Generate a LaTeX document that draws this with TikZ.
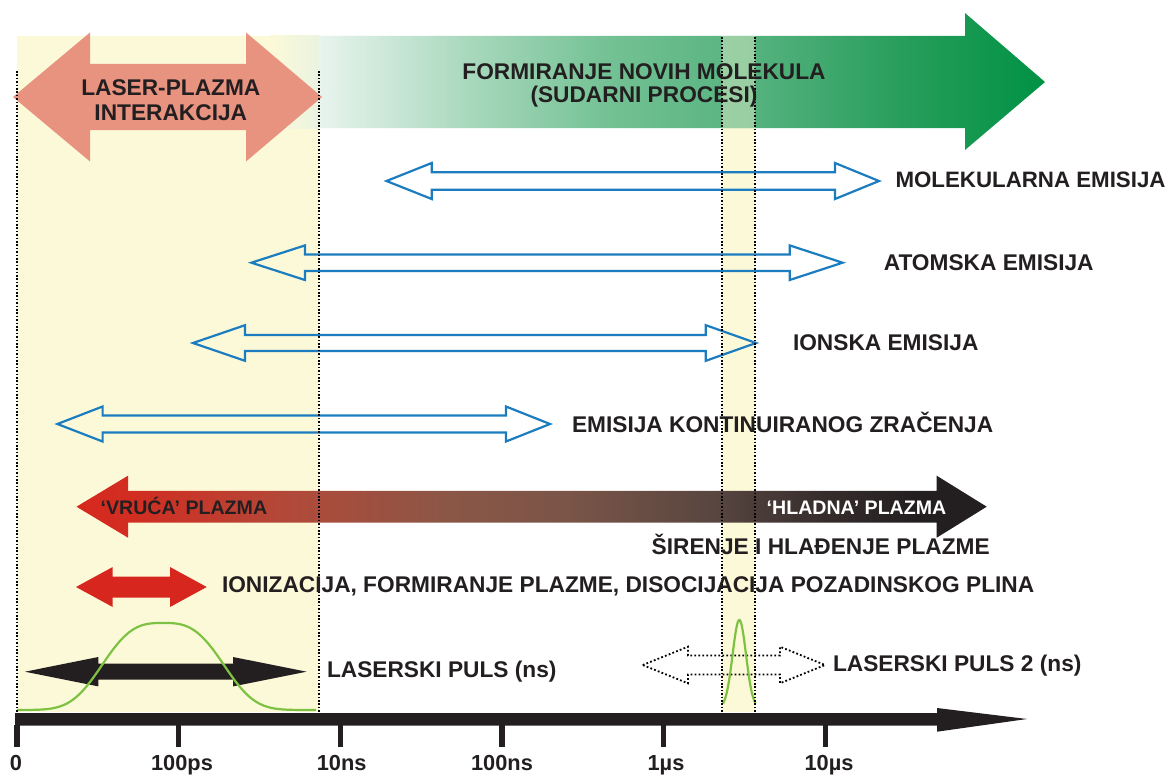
\documentclass[tikz,border=0pt]{standalone}
\usepackage{fontspec}
\setmainfont{Liberation Sans}
\definecolor{bandyellow}{RGB}{252,249,216}
\definecolor{txt}{RGB}{35,31,32}
\definecolor{salmon}{RGB}{232,146,128}
\definecolor{eblue}{RGB}{27,125,192}
\definecolor{ired}{RGB}{215,38,30}
\definecolor{pgreen}{RGB}{125,194,66}
\definecolor{ga}{RGB}{232,244,238}
\definecolor{gb}{RGB}{170,217,190}
\definecolor{gc}{RGB}{115,193,148}
\definecolor{gd}{RGB}{85,178,126}
\definecolor{ge}{RGB}{40,158,92}
\definecolor{gf}{RGB}{0,146,68}
\definecolor{pa}{RGB}{215,40,30}
\definecolor{pb}{RGB}{210,45,33}
\definecolor{pc}{RGB}{176,74,58}
\definecolor{pd}{RGB}{140,86,70}
\definecolor{pe}{RGB}{122,85,72}
\definecolor{pf}{RGB}{88,70,64}
\definecolor{pg}{RGB}{55,45,45}
\definecolor{ph}{RGB}{35,31,32}
\definecolor{hint}{RGB}{234,243,224}
\pgfdeclarehorizontalshading{greenarrow}{100bp}{color(0bp)=(ga); color(25bp)=(ga); color(35bp)=(gb); color(45bp)=(gc); color(55bp)=(gd); color(65bp)=(ge); color(75bp)=(gf); color(100bp)=(gf)}
\pgfdeclarehorizontalshading{plasma}{100bp}{color(0bp)=(pa); color(25bp)=(pa); color(28bp)=(pb); color(37bp)=(pc); color(45bp)=(pd); color(52bp)=(pe); color(60bp)=(pf); color(66bp)=(pg); color(71bp)=(ph); color(100bp)=(ph)}
% double arrow outline: xl, xlb, xrb, xr, yc, head half, shaft half
\newcommand\dblarrowpath[7]{({#1},{#5}) -- ({#2},{#5-#6}) -- ({#2},{#5-#7}) -- ({#3},{#5-#7}) -- ({#3},{#5-#6}) -- ({#4},{#5}) -- ({#3},{#5+#6}) -- ({#3},{#5+#7}) -- ({#2},{#5+#7}) -- ({#2},{#5+#6}) -- cycle}
\begin{document}
\begin{tikzpicture}[x=1pt,y=-1pt,
  every node/.style={inner sep=0pt, outer sep=0pt, text=txt, font=\fontsize{22.7}{25}\selectfont\bfseries},
  lbl/.style={anchor=base west},
  small/.style={font=\fontsize{19.6}{22}\selectfont\bfseries},
  mid/.style={font=\fontsize{22.3}{25}\selectfont\bfseries},
  axlbl/.style={anchor=base, font=\fontsize{21.8}{24}\selectfont\bfseries},
  hollow/.style={draw=eblue, line width=2.2pt, line join=miter},
  vdots/.style={draw=black, line width=1.7pt, dash pattern=on 1.6pt off 1.8pt},
  pulse/.style={draw=pgreen, line width=2.2pt}]
\useasboundingbox (0,0) rectangle (1172,776);
\fill[white] (0,0) rectangle (1172,776);
% yellow bands
\fill[bandyellow] (17,36) rectangle (319,712);
\fill[bandyellow] (722,36) rectangle (755,712);
\shade[left color=bandyellow, right color=hint] (270,36) rectangle (319,128);
% green arrow
\shade[shading=greenarrow] (319,36) -- (965,36) -- (965,13) -- (1045,82) -- (965,150) -- (965,128) -- (319,128) -- cycle;
\fill[bandyellow, opacity=0.4] (722,36) rectangle (755,128);
% laser-plasma interaction arrow
\fill[salmon] \dblarrowpath{13}{90}{246}{322}{97}{64.5}{33};
% emission arrows
\draw[hollow] \dblarrowpath{386.5}{431.7}{835}{879}{181}{18}{8.7};
\draw[hollow] \dblarrowpath{251.4}{305}{789.7}{842.6}{262.7}{17.3}{8.3};
\draw[hollow] \dblarrowpath{193}{245}{705.8}{756}{343}{17.8}{8};
\draw[hollow] \dblarrowpath{57.4}{102.6}{506}{550}{424}{17.5}{8.5};
% plasma arrow
\shade[shading=plasma] \dblarrowpath{76.5}{128}{936.7}{986.7}{506.7}{31}{15.8};
% ionisation arrow
\fill[ired] \dblarrowpath{76}{112.7}{170}{206.7}{587}{20}{10.5};
% laser pulse arrow
\fill[txt] \dblarrowpath{25}{98.3}{233}{306.7}{671.7}{14.7}{8};
% laser pulse 2 arrow (dotted outline)
\draw[black, line width=1.8pt, dash pattern=on 1.8pt off 2.2pt] \dblarrowpath{642.7}{688}{780}{825}{665}{18.3}{9.5};
% pulses
\draw[pulse] plot[domain=17:316, samples=150] (\x, {710-87*exp(-abs((\x-163)/70)*((\x-163)/70)*((\x-163)/70))});
\draw[pulse] plot[domain=723:755.5, samples=60] (\x, {708-88*exp(-((\x-739.3)/9.5)*((\x-739.3)/9.5))});
% axis
\fill[txt] (15,713) -- (937,713) -- (937,708) -- (1027,719) -- (937,731.7) -- (937,725.7) -- (15,725.7) -- cycle;
\foreach \t in {17,178.7,340.3,502,663.7,825.3} {
  \fill[txt] ({\t-2.6},725) rectangle ({\t+2.6},747);
}
% dotted guide lines
\draw[vdots] (17,71) -- (17,712);
\draw[vdots] (319,71) -- (319,712);
\draw[vdots] (722,37) -- (722,712);
\draw[vdots] (755,37) -- (755,712);
% texts
\node[anchor=base] (lp1) at (170.8,95) {LASER-PLAZMA};
\node[anchor=base] (lp2) at (170.8,120) {INTERAKCIJA};
\node[anchor=base] (fn1) at (644,80) {FORMIRANJE NOVIH MOLEKULA};
\node[anchor=base] (fn2) at (644,102.5) {(SUDARNI PROCESI)};
\node[lbl, mid] (mol) at (895.5,187.3) {MOLEKULARNA EMISIJA};
\node[lbl] (atom) at (883.8,270) {ATOMSKA EMISIJA};
\node[lbl] (ion) at (793,350) {IONSKA EMISIJA};
\node[lbl] (kont) at (572,432.7) {EMISIJA KONTINUIRANOG ZRAČENJA};
\node[lbl, small] (hot) at (100.6,514.3) {‘VRUĆA’ PLAZMA};
\node[lbl, small, text=white] (cold) at (766.7,514) {‘HLADNA’ PLAZMA};
\node[lbl] (sir) at (651.7,554) {ŠIRENJE I HLAĐENJE PLAZME};
\node[lbl] (ioniz) at (222,592.5) {IONIZACIJA, FORMIRANJE PLAZME, DISOCIJACIJA POZADINSKOG PLINA};
\node[lbl] (lp) at (327,677.3) {LASERSKI PULS (ns)};
\node[lbl] (lp2n) at (833,671.7) {LASERSKI PULS 2 (ns)};
\node[axlbl] (t0) at (16,770.5) {0};
\node[axlbl] (t1) at (182,770.5) {100ps};
\node[axlbl] (t2) at (341.7,770.5) {10ns};
\node[axlbl] (t3) at (502,770.5) {100ns};
\node[axlbl] (t4) at (666,770.5) {1µs};
\node[axlbl] (t5) at (829,770.5) {10µs};
\end{tikzpicture}
\end{document}
